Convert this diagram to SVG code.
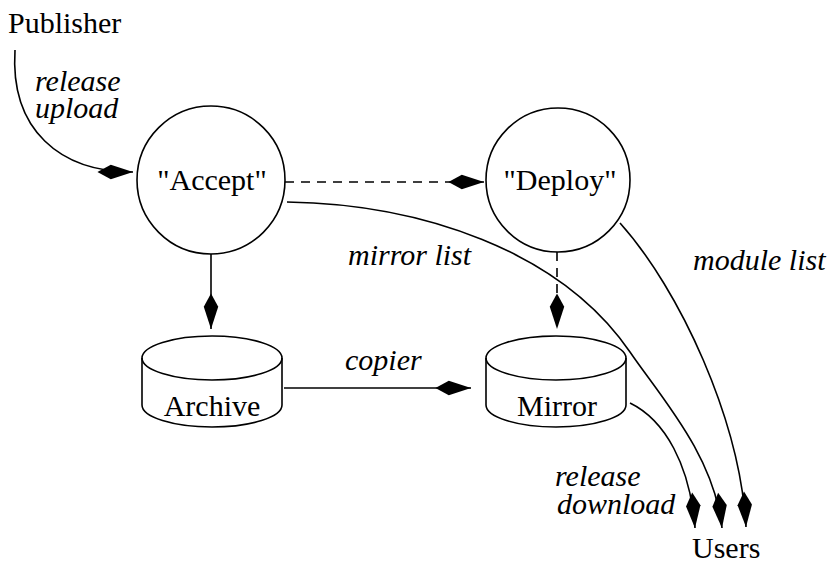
<svg xmlns="http://www.w3.org/2000/svg" width="839" height="566" viewBox="0 0 839 566">
  <style>
    .shape { fill: none; stroke: #000; stroke-width: 1.6; }
    .edge { fill: none; stroke: #000; stroke-width: 1.6; }
    .dash { stroke-dasharray: 9 7; }
    .lbl { font-family: "Liberation Serif", "Times New Roman", serif; font-size: 30px; fill: #000; }
    .it { font-style: italic; }
    .mid { text-anchor: middle; }
  </style>
  <defs>
    <marker id="kite" markerUnits="userSpaceOnUse" markerWidth="40" markerHeight="20" viewBox="-34 -8 36 16" refX="0" refY="0" orient="auto">
      <path d="M0,0 L-20,-6.5 L-32,0 L-20,6.5 Z" fill="#000"/>
    </marker>
  </defs>

  <rect width="839" height="566" fill="#fff"/>

  <!-- external endpoints -->
  <g id="publisher">
    <text class="lbl" x="8" y="33">Publisher</text>
  </g>
  <g id="users">
    <text class="lbl" x="692" y="558">Users</text>
  </g>

  <!-- process nodes -->
  <g id="accept">
    <circle class="shape" cx="211" cy="180" r="74"/>
    <text class="lbl mid" x="212" y="190">"Accept"</text>
  </g>
  <g id="deploy">
    <circle class="shape" cx="558" cy="180" r="72"/>
    <text class="lbl mid" x="560" y="190">"Deploy"</text>
  </g>

  <!-- storage nodes -->
  <g id="archive">
    <ellipse class="shape" cx="212" cy="358" rx="70" ry="22"/>
    <path class="shape" d="M142,358 L142,405 A70,22 0 0 0 282,405 L282,358"/>
    <text class="lbl mid" x="212" y="416">Archive</text>
  </g>
  <g id="mirror">
    <ellipse class="shape" cx="556" cy="358" rx="70" ry="22"/>
    <path class="shape" d="M486,358 L486,405 A70,22 0 0 0 626,405 L626,358"/>
    <text class="lbl mid" x="557" y="416">Mirror</text>
  </g>

  <!-- connectors -->
  <g id="connectors">
    <path class="edge" d="M15,50 C10,130 60,172 133,172" marker-end="url(#kite)"/>
    <path class="edge dash" d="M285,182 L484,182" marker-end="url(#kite)"/>
    <path class="edge" d="M211,254 L211,329" marker-end="url(#kite)"/>
    <path class="edge dash" d="M557,252 L557,329" marker-end="url(#kite)"/>
    <path class="edge" d="M284,388 L471,388" marker-end="url(#kite)"/>
    <path class="edge" d="M287,202 C420,204 560,250 630,352 C660,396 714,455 722,528" marker-end="url(#kite)"/>
    <path class="edge" d="M620,223 C680,290 740,420 746,527" marker-end="url(#kite)"/>
    <path class="edge" d="M630,403 C665,420 690,465 695,528" marker-end="url(#kite)"/>
  </g>

  <!-- connector labels -->
  <g id="labels">
    <text class="lbl it" x="35" y="91">release</text>
    <text class="lbl it" x="35" y="118">upload</text>
    <text class="lbl it" x="348" y="265">mirror list</text>
    <text class="lbl it" x="693" y="270">module list</text>
    <text class="lbl it" x="345" y="370">copier</text>
    <text class="lbl it" x="555" y="486">release</text>
    <text class="lbl it" x="557" y="514">download</text>
  </g>
</svg>
